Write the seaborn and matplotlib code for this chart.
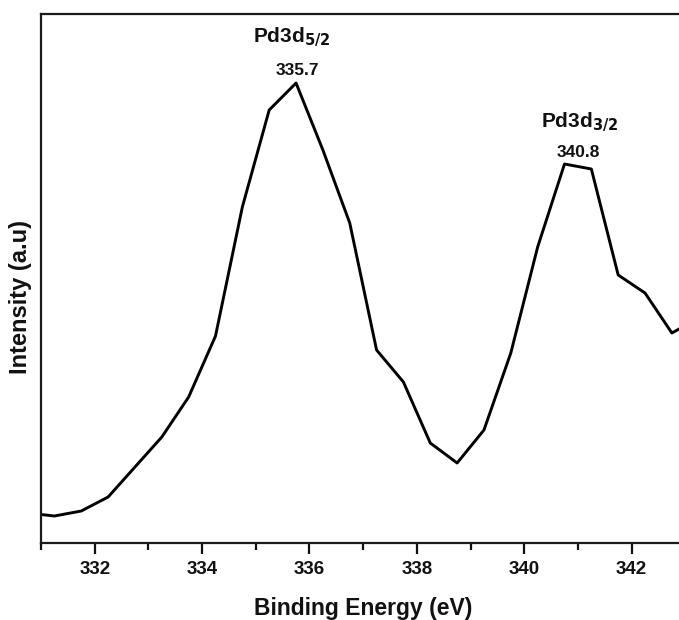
#!/usr/bin/env python3

import numpy as np
import pandas as pd
import matplotlib as mpl
mpl.use('Agg')
import matplotlib.pyplot as plt
from matplotlib.ticker import MultipleLocator
import seaborn as sns

sns.set_style('ticks')
plt.rcParams['font.family'] = ['Liberation Sans', 'DejaVu Sans']
plt.rcParams['font.weight'] = 'bold'
plt.rcParams['mathtext.default'] = 'bf'
plt.rcParams['text.color'] = '#111111'
plt.rcParams['axes.labelcolor'] = '#111111'
plt.rcParams['xtick.color'] = '#111111'

# Pd 3d spectrum (arbitrary intensity units)
binding_energy = [330.75, 331.25, 331.75, 332.25, 332.75, 333.25, 333.75, 334.25,
                  334.75, 335.25, 335.75, 336.25, 336.75, 337.25, 337.75, 338.25,
                  338.75, 339.25, 339.75, 340.25, 340.75, 341.25, 341.75, 342.25,
                  342.75, 343.25]
intensity = [30, 27, 32, 46, 76, 106, 146, 207,
             336, 433, 460, 393, 320, 193, 161, 100,
             80, 113, 190, 296, 379, 374, 268, 250,
             210, 225]

peak_names = ['Pd3d$_{5/2}$', 'Pd3d$_{3/2}$']
peak_pos = [335.7, 340.8]
peak_labels = ['335.7', '340.8']

d = pd.DataFrame({'be': binding_energy, 'counts': intensity})

fig = plt.figure(figsize=(6.79, 6.2), dpi=100)
# axes run past the right edge of the picture, as in the cropped original
ax = fig.add_axes([0.0604, 0.1242, 0.9647, 0.8532])

sns.lineplot(data=d, x='be', y='counts', ax=ax, color='black', linewidth=2.1)

ax.set_xlim(331, 343.2)
ax.set_ylim(0, 529)
ax.xaxis.set_major_locator(MultipleLocator(2))
ax.xaxis.set_minor_locator(MultipleLocator(1))
ax.tick_params(axis='x', which='major', direction='out', length=8, width=1.6,
               labelsize=13.5, pad=5, bottom=True, top=False)
ax.tick_params(axis='x', which='minor', direction='out', length=5, width=1.6,
               bottom=True, top=False)
ax.set_yticks([])
for s in ax.spines.values():
    s.set_linewidth(1.6)
    s.set_color('#1a1a1a')

ax.set_xlabel('Binding Energy (eV)', fontsize=16.5, fontweight='bold')
ax.set_ylabel('Intensity (a.u)', fontsize=17, fontweight='bold')
ax.xaxis.set_label_coords(0.4916, -0.102)
ax.yaxis.set_label_coords(-0.013, 0.465)

# Peak labels
ax.text(335.66, 501, peak_names[0], ha='center', va='baseline', fontsize=15)
ax.text(335.77, 468, peak_labels[0], ha='center', va='baseline', fontsize=12.5)
ax.text(341.03, 416, peak_names[1], ha='center', va='baseline', fontsize=15)
ax.text(341.01, 386, peak_labels[1], ha='center', va='baseline', fontsize=12.5)

fig.savefig('out.png', dpi=100)
